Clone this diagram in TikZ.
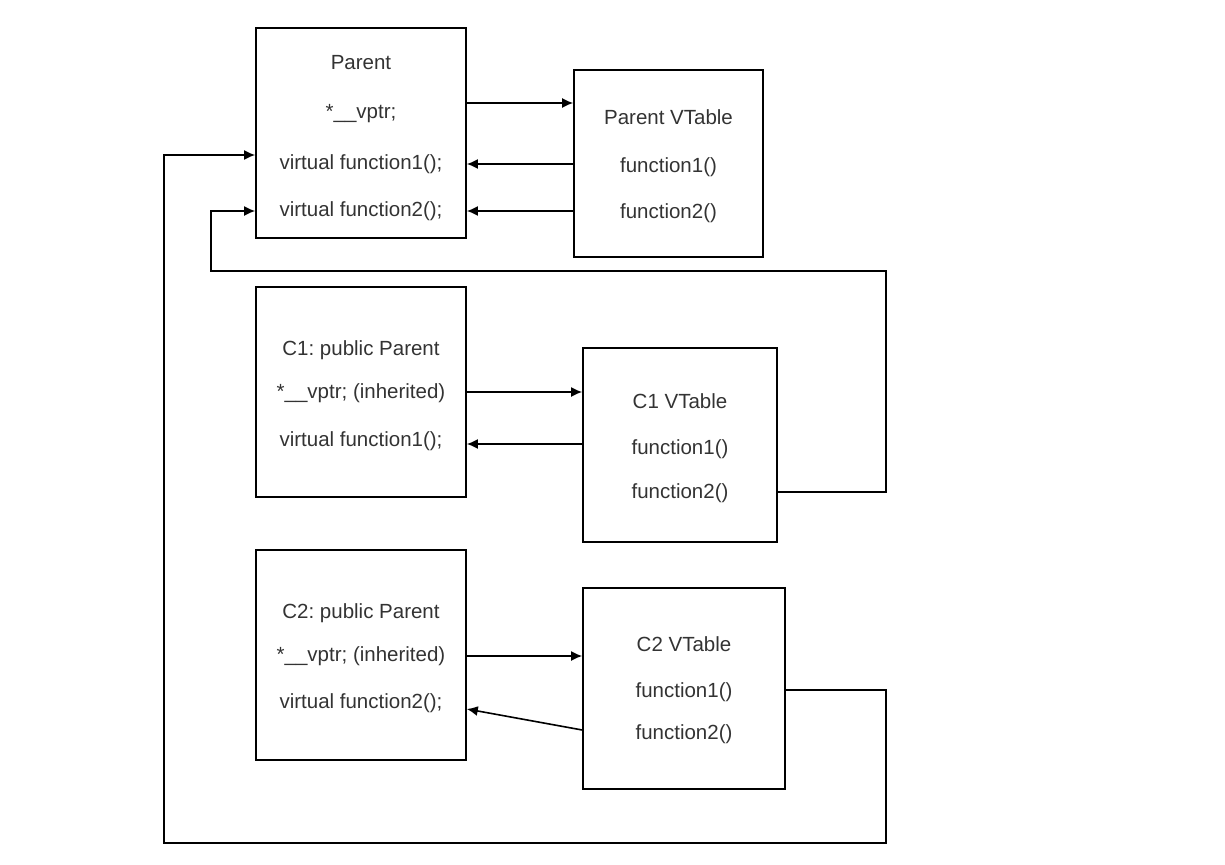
\documentclass[tikz,border=0pt]{standalone}
\usepackage{fontspec}
\setmainfont{Liberation Sans}
\frenchspacing
\usetikzlibrary{positioning,arrows.meta}
\definecolor{txtgray}{RGB}{51,51,51}

\begin{document}
\begin{tikzpicture}[x=1pt,y=-1pt,line width=1.6pt,>={Latex[length=11pt,width=10pt]},
  box/.style={draw,minimum width=210pt,minimum height=210pt,inner sep=0pt},
  lbl/.style={font=\fontsize{20.5}{24}\selectfont\color{txtgray},text height=15pt,text depth=4pt,inner sep=0pt}]
\useasboundingbox (0,0) rectangle (1225,864);

\node[box] (parent) at (361,133) {};
\node[box,minimum width=189pt,minimum height=187pt] (pvt) at (668.5,163.5) {};
\node[box] (c1) at (361,392) {};
\node[box,minimum width=194pt,minimum height=194pt] (c1vt) at (680,445) {};
\node[box] (c2) at (361,655) {};
\node[box,minimum width=202pt,minimum height=201pt] (c2vt) at (684,688.5) {};

\node[lbl] (pname) at (361,64) {Parent};
\node[lbl] (pvptr) at (361,113) {*\_\_vptr;};
\node[lbl] (pf1) at (361,164) {virtual function1();};
\node[lbl] (pf2) at (361,211) {virtual function2();};

\node[lbl] (pvtname) at (668.5,119) {Parent VTable};
\node[lbl] (pvtf1) at (668.5,167) {function1()};
\node[lbl] (pvtf2) at (668.5,213) {function2()};

\node[lbl] (c1name) at (361,350) {C1: public Parent};
\node[lbl] (c1vptr) at (361,393) {*\_\_vptr; (inherited)};
\node[lbl] (c1f1) at (361,441) {virtual function1();};

\node[lbl] (c1vtname) at (680,403) {C1 VTable};
\node[lbl] (c1vtf1) at (680,449) {function1()};
\node[lbl] (c1vtf2) at (680,493) {function2()};

\node[lbl] (c2name) at (361,613) {C2: public Parent};
\node[lbl] (c2vptr) at (361,656) {*\_\_vptr; (inherited)};
\node[lbl] (c2f2) at (361,703) {virtual function2();};

\node[lbl] (c2vtname) at (684,646) {C2 VTable};
\node[lbl] (c2vtf1) at (684,692) {function1()};
\node[lbl] (c2vtf2) at (684,734) {function2()};

% parent and its table
\draw[->] ([yshift=10pt]pvptr -| parent.east) -- ([yshift=10pt]pvptr -| pvt.west);
\draw[->] (pf1 -| pvt.west) -- (pf1 -| parent.east);
\draw[->] (pf2 -| pvt.west) -- (pf2 -| parent.east);

% C1
\draw[->] ([yshift=1pt]c1vptr -| c1.east) -- ([yshift=1pt]c1vptr -| c1vt.west);
\draw[->] ([yshift=-3pt]c1f1 -| c1vt.west) -- ([yshift=-3pt]c1f1 -| c1.east);
\draw[->] ([yshift=1pt]c1vtf2 -| c1vt.east) -- ++(108,0) -- ++(0,-221) -| ([xshift=-44pt]pf2 -| parent.west) -- (pf2 -| parent.west);

% C2
\draw[->] (c2vptr -| c2.east) -- (c2vptr -| c2vt.west);
\draw[->] ([yshift=4pt]c2vtf2 -| c2vt.west) -- ([yshift=-6pt]c2f2 -| c2.east);
\draw[->] ([yshift=2pt]c2vtf1 -| c2vt.east) -- ++(100,0) -- ++(0,153) -| ([xshift=-91pt,yshift=9pt]pf1 -| parent.west) -- ([yshift=9pt]pf1 -| parent.west);
\end{tikzpicture}
\end{document}
